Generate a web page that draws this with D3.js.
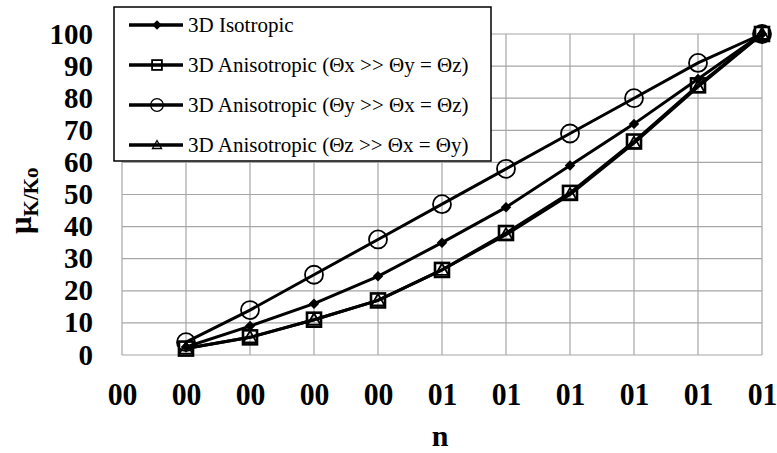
<!DOCTYPE html>
<html>
<head>
<meta charset="utf-8">
<script src="https://cdn.jsdelivr.net/npm/d3@7"></script>
<style>
  body { margin: 0; background: #fff; }
</style>
</head>
<body>
<div id="chart"></div>
<script>
(function() {

    // data
    var nValues = [0.1, 0.2, 0.3, 0.4, 0.5, 0.6, 0.7, 0.8, 0.9, 1.0];
    var isotropic = [2.5, 9, 16, 24.5, 35, 46, 59, 72, 86, 100];
    var anisoX    = [2, 5.5, 11, 17, 26.5, 38, 50.5, 66.5, 84, 100];
    var anisoY    = [4, 14, 25, 36, 47, 58, 69, 80, 91, 100];
    var anisoZ    = [2, 5.5, 11, 17, 26.5, 37.5, 50, 66, 83.5, 100];

    var xTicks = [0, 0.1, 0.2, 0.3, 0.4, 0.5, 0.6, 0.7, 0.8, 0.9, 1.0];
    var xTickLabels = ["00", "00", "00", "00", "00", "01", "01", "01", "01", "01", "01"];
    var yTicks = [0, 10, 20, 30, 40, 50, 60, 70, 80, 90, 100];

    var seriesNames = [
        "3D Isotropic",
        "3D Anisotropic (\u0398x >> \u0398y = \u0398z)",
        "3D Anisotropic (\u0398y >> \u0398x = \u0398z)",
        "3D Anisotropic (\u0398z >> \u0398x = \u0398y)"
    ];
    var seriesValues = [isotropic, anisoX, anisoY, anisoZ];
    var seriesMarkers = ["diamond", "square", "circle", "triangle"];

    var FONT = "'Liberation Serif', 'Times New Roman', serif";

    var W = 777, H = 453;
    var margin = {top: 34, left: 122, right: 15, bottom: 98},
        width = W - margin.left - margin.right,
        height = H - margin.top - margin.bottom;

    var svg = d3.select("#chart").append("svg")
        .attr("width", W)
        .attr("height", H);

    var g = svg.append("g")
        .attr("transform", "translate(" + margin.left + "," + margin.top + ")");

    var x = d3.scaleLinear().domain([0, 1]).range([0, width]);
    var y = d3.scaleLinear().domain([0, 100]).range([height, 0]);

    // grid
    g.append("g")
        .selectAll("line")
        .data(xTicks)
        .enter().append("line")
        .attr("x1", function(d) { return x(d); })
        .attr("x2", function(d) { return x(d); })
        .attr("y1", 0)
        .attr("y2", height)
        .attr("stroke", "#a6a6a6")
        .attr("stroke-width", 1.2);

    g.append("g")
        .selectAll("line")
        .data(yTicks)
        .enter().append("line")
        .attr("x1", 0)
        .attr("x2", width)
        .attr("y1", function(d) { return y(d); })
        .attr("y2", function(d) { return y(d); })
        .attr("stroke", "#a6a6a6")
        .attr("stroke-width", 1.2);

    // axes (labels only)
    var xAxis = g.append("g")
        .attr("transform", "translate(0," + height + ")")
        .call(d3.axisBottom(x).tickValues(xTicks).tickSize(0).tickPadding(0)
            .tickFormat(function(d, i) { return xTickLabels[i]; }));
    var yAxis = g.append("g")
        .call(d3.axisLeft(y).tickValues(yTicks).tickSize(0).tickPadding(0));

    [xAxis, yAxis].forEach(function(a) {
        a.select(".domain").remove();
        a.selectAll("text")
            .style("font-family", FONT)
            .style("font-weight", "bold")
            .attr("fill", "#000");
    });
    xAxis.selectAll("text").attr("dy", null).attr("y", 0)
        .style("font-size", "32px")
        .attr("transform", "translate(0,50) scale(0.93,1)");
    yAxis.selectAll("text").attr("dy", null).attr("x", 0)
        .style("font-size", "29px")
        .attr("transform", "translate(-29,9)");

    // series
    var line = d3.line()
        .x(function(d, i) { return x(nValues[i]); })
        .y(function(d) { return y(d); });

    function drawMarker(sel, type) {
        if (type === "diamond") {
            sel.append("path")
                .attr("d", d3.symbol().type(d3.symbolDiamond2).size(70))
                .attr("fill", "#000");
        } else if (type === "square") {
            sel.append("rect")
                .attr("x", -7).attr("y", -7)
                .attr("width", 14).attr("height", 14)
                .attr("fill", "none").attr("stroke", "#000").attr("stroke-width", 2.6);
        } else if (type === "circle") {
            sel.append("circle")
                .attr("r", 9)
                .attr("fill", "none").attr("stroke", "#000").attr("stroke-width", 1.8);
        } else {
            sel.append("path")
                .attr("d", "M0,-6.5L6.5,5L-6.5,5Z")
                .attr("fill", "none").attr("stroke", "#000").attr("stroke-width", 1.8);
        }
    }

    seriesValues.forEach(function(vals, s) {
        g.append("path")
            .datum(vals)
            .attr("d", line)
            .attr("fill", "none")
            .attr("stroke", "#000")
            .attr("stroke-width", 3);
    });

    seriesValues.forEach(function(vals, s) {
        g.append("g")
            .selectAll("g")
            .data(vals)
            .enter().append("g")
            .attr("transform", function(d, i) { return "translate(" + x(nValues[i]) + "," + y(d) + ")"; })
            .each(function() { drawMarker(d3.select(this), seriesMarkers[s]); });
    });

    // legend
    var legend = svg.append("g").attr("transform", "translate(114,7)");
    legend.append("rect")
        .attr("width", 377)
        .attr("height", 154)
        .attr("fill", "#fff")
        .attr("stroke", "#000")
        .attr("stroke-width", 1.5);

    var items = legend.selectAll(".item")
        .data(seriesNames)
        .enter().append("g")
        .attr("class", "item")
        .attr("transform", function(d, i) { return "translate(0," + (18 + i * 40) + ")"; });

    items.append("line")
        .attr("x1", 15).attr("x2", 69)
        .attr("stroke", "#000").attr("stroke-width", 3.4);
    items.append("g")
        .each(function(d, i) { drawMarker(d3.select(this), seriesMarkers[i]); })
        .attr("transform", function(d, i) {
            return "translate(43,0)" + (seriesMarkers[i] === "diamond" ? " scale(0.9)" : " scale(0.7)");
        });
    items.append("text")
        .attr("x", 74)
        .attr("dy", "0.35em")
        .style("font-family", FONT)
        .style("font-size", "21px")
        .attr("fill", "#000")
        .text(function(d) { return d; });

    // axis titles
    svg.append("text")
        .attr("x", margin.left + width / 2 - 2)
        .attr("y", 446)
        .attr("text-anchor", "middle")
        .style("font-family", FONT)
        .style("font-size", "30px")
        .style("font-weight", "bold")
        .text("n");

    var yt = svg.append("text")
        .attr("transform", "translate(31,234) rotate(-90)")
        .style("font-family", FONT)
        .style("font-weight", "bold");
    yt.append("tspan").style("font-size", "31px").text("\u03bc");
    yt.append("tspan").style("font-size", "21px").attr("dy", 7).text("K/Ko");

})();
</script>
</body>
</html>
